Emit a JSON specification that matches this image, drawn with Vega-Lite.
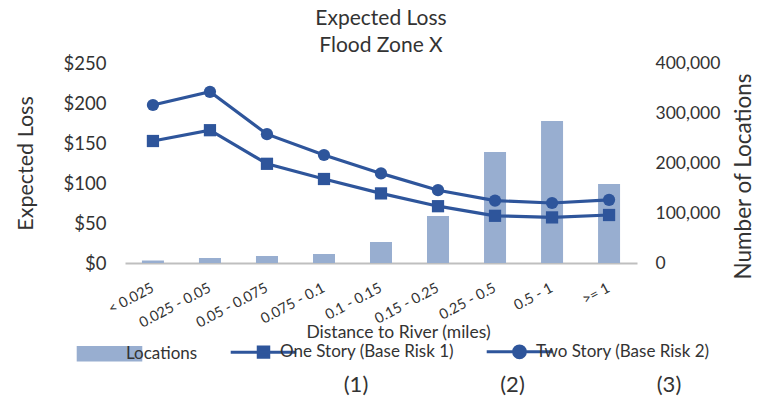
{
  "$schema": "https://vega.github.io/schema/vega-lite/v6.json",
  "padding": {"left": 15, "top": 8, "right": 0, "bottom": 0},
  "background": "white",
  "config": {
    "font": "Lato",
    "view": {"stroke": null},
    "axis": {"grid": false, "labelColor": "#333333", "titleColor": "#333333", "titleFontWeight": "normal"},
    "concat": {"spacing": 10}
  },
  "resolve": {"legend": {"color": "independent"}},
  "vconcat": [
    {
      "width": 512,
      "height": 200,
      "title": {"text": ["Expected Loss", "Flood Zone X"], "fontSize": 21, "fontWeight": "normal", "color": "#333333", "lineHeight": 27, "anchor": "middle", "offset": -2},
      "data": {"values": [
        {"dist": "< 0.025", "locations": 5000, "one": 152.5, "two": 197.5},
        {"dist": "0.025 - 0.05", "locations": 10000, "one": 166, "two": 214},
        {"dist": "0.05 - 0.075", "locations": 14000, "one": 124, "two": 161},
        {"dist": "0.075 - 0.1", "locations": 18000, "one": 105, "two": 135},
        {"dist": "0.1 - 0.15", "locations": 42000, "one": 87, "two": 112},
        {"dist": "0.15 - 0.25", "locations": 94000, "one": 71, "two": 91},
        {"dist": "0.25 - 0.5", "locations": 222000, "one": 59, "two": 78},
        {"dist": "0.5 - 1", "locations": 284000, "one": 57, "two": 75},
        {"dist": ">= 1", "locations": 158000, "one": 60, "two": 79}
      ]},
      "encoding": {
        "x": {
          "field": "dist", "type": "ordinal", "sort": null,
          "scale": {"paddingInner": 0.614, "paddingOuter": 0.297},
          "axis": {"title": "Distance to River (miles)", "labelAngle": -28, "labelBaseline": "middle", "labelAlign": "right", "labelFontSize": 14.5, "ticks": false, "labelPadding": 24, "domainColor": "#BFBFBF", "domainWidth": 2, "titleFontSize": 17.5, "titlePadding": -6, "titleX": 273}
        }
      },
      "layer": [
        {
          "mark": {"type": "bar"},
          "encoding": {
            "y": {"field": "locations", "type": "quantitative", "scale": {"domain": [0, 400000], "nice": false},
              "axis": {"orient": "right", "title": "Number of Locations", "format": ",.0f", "values": [0, 100000, 200000, 300000, 400000], "domain": false, "ticks": false, "labelPadding": 18, "labelFontSize": 17.5, "titleFontSize": 22.5, "titleAngle": 270, "titleBaseline": "top", "titlePadding": 13, "titleY": 113}},
            "color": {
              "datum": "Locations",
              "title": null,
              "scale": {"domain": ["Locations", "one", "two"], "range": ["#98AED0", "#2E559B", "#2E559B"]},
              "legend": {
                "orient": "none", "direction": "horizontal", "legendX": -24, "legendY": 280, "title": null,
                "labelExpr": "datum.label === 'one' ? 'One Story (Base Risk 1)' : datum.label === 'two' ? 'Two Story (Base Risk 2)' : datum.label",
                "labelFontSize": 17, "labelColor": "#333333", "labelLimit": 400, "symbolSize": 4300, "columnPadding": 26, "labelOffset": 8, "padding": 0,
                "encode": {"symbols": {"update": {
                  "shape": {"signal": "datum.value === 'Locations' ? 'M-1,-0.24H1V0.24H-1Z' : datum.value === 'one' ? 'M-1,0H1M-0.16,-0.16H0.16V0.16H-0.16Z' : 'M-1,0H1M0.18,0A0.18,0.18,0,1,1,-0.18,0A0.18,0.18,0,1,1,0.18,0Z'"},
                  "fill": {"signal": "datum.value === 'Locations' ? '#98AED0' : '#2E559B'"},
                  "stroke": {"signal": "datum.value === 'Locations' ? '#98AED0' : '#2E559B'"},
                  "strokeWidth": {"signal": "datum.value === 'Locations' ? 0 : 3"},
                  "opacity": {"value": 1}
                }}}
              }
            }
          }
        },
        {
          "transform": [{"fold": ["one", "two"], "as": ["series", "loss"]}],
          "encoding": {
            "y": {"field": "loss", "type": "quantitative", "scale": {"domain": [0, 250], "nice": false},
              "axis": {"orient": "left", "title": "Expected Loss", "format": "$,.0f", "values": [0, 50, 100, 150, 200, 250], "domain": false, "ticks": false, "labelPadding": 19, "labelFontSize": 18.5, "titleFontSize": 21.5, "titlePadding": 26}},
            "color": {"field": "series", "type": "nominal", "title": null}
          },
          "layer": [
            {"mark": {"type": "line", "strokeWidth": 3.2}},
            {
              "mark": {"type": "point", "filled": true, "opacity": 1, "size": 150},
              "encoding": {
                "shape": {"field": "series", "type": "nominal", "scale": {"domain": ["one", "two"], "range": ["square", "circle"]}, "legend": null}
              }
            }
          ]
        }
      ],
      "resolve": {"scale": {"y": "independent"}}
    },
    {
      "width": 544,
      "height": 20,
      "data": {"values": [{"n": "(1)"}, {"n": "(2)"}, {"n": "(3)"}]},
      "mark": {"type": "text", "fontSize": 22, "color": "#333333"},
      "encoding": {
        "x": {"field": "n", "type": "nominal", "scale": {"type": "point", "padding": 0.738, "align": 1}, "axis": null},
        "text": {"field": "n"}
      }
    }
  ]
}
